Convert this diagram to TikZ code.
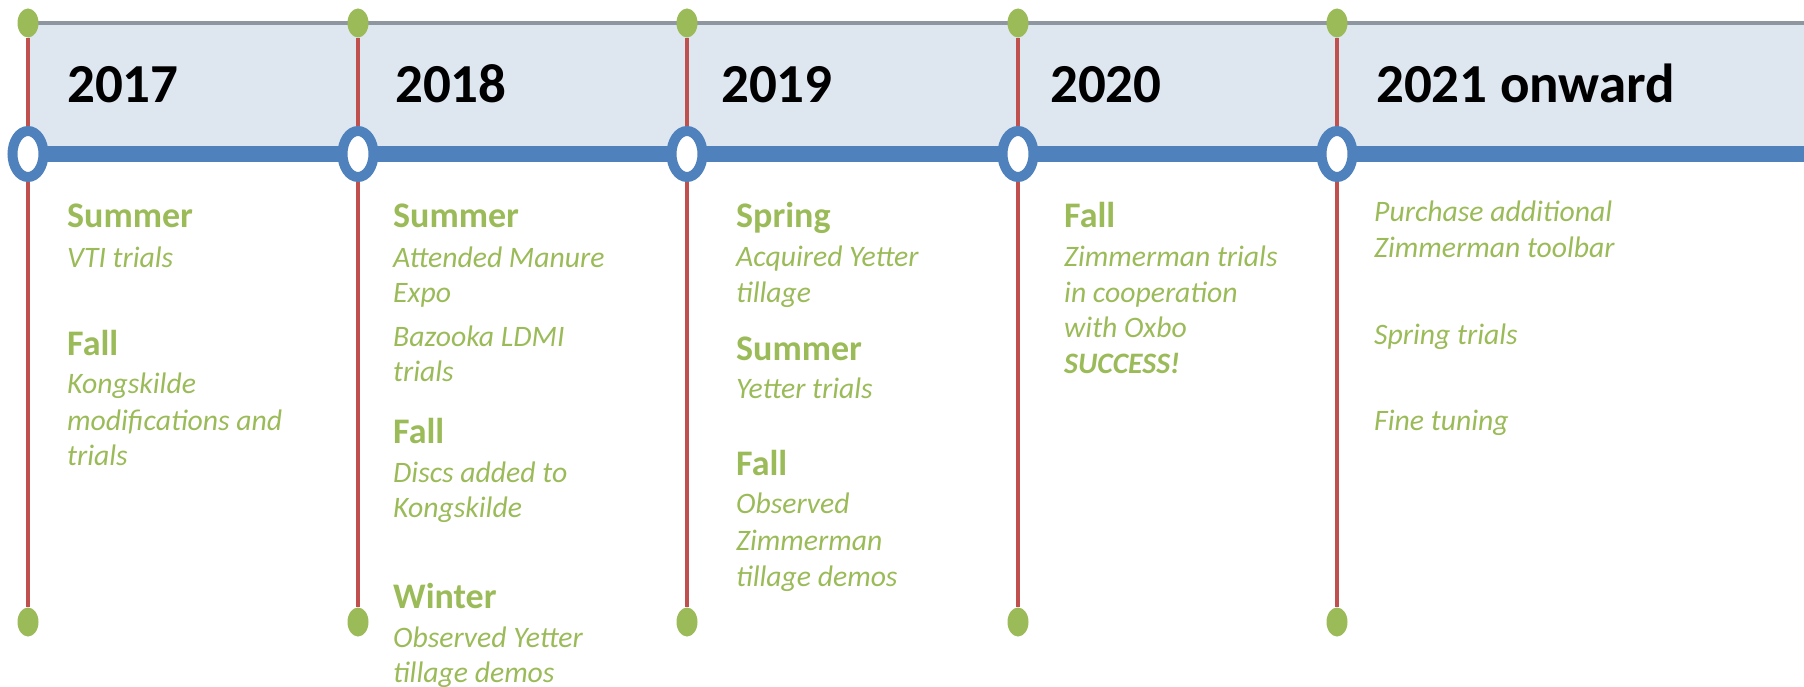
\documentclass[tikz,border=0pt]{standalone}
\usepackage{fontspec}
\setmainfont{Carlito}
\usetikzlibrary{shapes.geometric}

\definecolor{tlgreen}{HTML}{9BBB59}
\definecolor{tlred}{HTML}{C0504D}
\definecolor{tlblue}{HTML}{4F81BD}
\definecolor{tlfill}{HTML}{DEE6EF}
\definecolor{tlgray}{HTML}{8E979F}

\tikzset{
  dot/.style={ellipse, fill=tlgreen, inner sep=0, minimum width=21, minimum height=29},
  ring/.style={ellipse, fill=white, draw=tlblue, line width=10, inner sep=0,
    minimum width=31, minimum height=46},
  year/.style={anchor=base west, inner sep=0, font=\fontsize{55}{60}\selectfont\bfseries},
  season/.style={anchor=base west, inner sep=0, text=tlgreen,
    font=\fontsize{36}{42}\selectfont\bfseries},
  item/.style={anchor=base west, inner sep=0, text=tlgreen,
    font=\fontsize{29.7}{35}\selectfont\itshape},
}

\begin{document}
\begin{tikzpicture}[x=1pt, y=-1pt]
  \useasboundingbox (0,0) rectangle (1804,687);
  % band with the years
  \fill[tlfill] (28,23) rectangle (1804,154);
  \coordinate (gstart) at (28,23);
  \coordinate (gend) at (1804,23);
  \draw[tlgray, line width=4] (gstart) -- (gend);
  \coordinate (bstart) at (28,154);
  \coordinate (bend) at (1804,154);
  \draw[tlblue, line width=16] (bstart) -- (bend);

  \foreach \x in {28,358,687,1018,1337} {
    \node[dot] (top\x) at (\x,23) {};
    \node[dot] (bot\x) at (\x,622) {};
    \draw[tlred, line width=3.5] (top\x) -- (bot\x);
    \node[ring] (ring\x) at (\x,154) {};
  }

  \node[year] (y17) at (67,103) {2017};
  \node[year] (y18) at (395,103) {2018};
  \node[year] (y19) at (721,103) {2019};
  \node[year] (y20) at (1050,103) {2020};
  \node[year] (y21) at (1376,103) {2021 onward};

  % 2017
  \node[season] (su17) at (67,228) {Summer};
  \node[item] (vti) at (67,267) {VTI trials};
  \node[season] (fa17) at (67,355) {Fall};
  \node[item] (kong17) at (67,393) {Kongskilde};
  \node[item] (modif) at (67,430) {modifications and};
  \node[item] (trials17) at (67,465) {trials};

  % 2018
  \node[season] (su18) at (393,228) {Summer};
  \node[item] (expo1) at (393,267) {Attended Manure};
  \node[item] (expo2) at (393,302) {Expo};
  \node[item] (bazo1) at (393,346) {Bazooka LDMI};
  \node[item] (bazo2) at (393,381) {trials};
  \node[season] (fa18) at (393,443) {Fall};
  \node[item] (disc1) at (393,482) {Discs added to};
  \node[item] (disc2) at (393,517) {Kongskilde};
  \node[season] (wi18) at (393,608) {Winter};
  \node[item] (obs1) at (393,647) {Observed Yetter};
  \node[item] (obs2) at (393,682) {tillage demos};

  % 2019
  \node[season] (sp19) at (736,227) {Spring};
  \node[item] (acq1) at (736,266) {Acquired Yetter};
  \node[item] (acq2) at (736,302) {tillage};
  \node[season] (su19) at (736,360) {Summer};
  \node[item] (yet) at (736,398) {Yetter trials};
  \node[season] (fa19) at (736,475) {Fall};
  \node[item] (zim1) at (736,513) {Observed};
  \node[item] (zim2) at (736,550) {Zimmerman};
  \node[item] (zim3) at (736,586) {tillage demos};

  % 2020
  \node[season] (fa20) at (1064,227) {Fall};
  \node[item] (coop1) at (1064,266) {Zimmerman trials};
  \node[item] (coop2) at (1064,302) {in cooperation};
  \node[item] (coop3) at (1064,337) {with Oxbo};
  \node[item, font=\fontsize{29.7}{35}\selectfont\bfseries\itshape] (succ) at (1064,373) {SUCCESS!};

  % 2021 onward
  \node[item] (buy1) at (1374,222) {Purchase additional};
  \node[item] (buy2) at (1374,258) {Zimmerman toolbar};
  \node[item] (spr) at (1374,344) {Spring trials};
  \node[item] (tune) at (1374,430) {Fine tuning};
\end{tikzpicture}
\end{document}
